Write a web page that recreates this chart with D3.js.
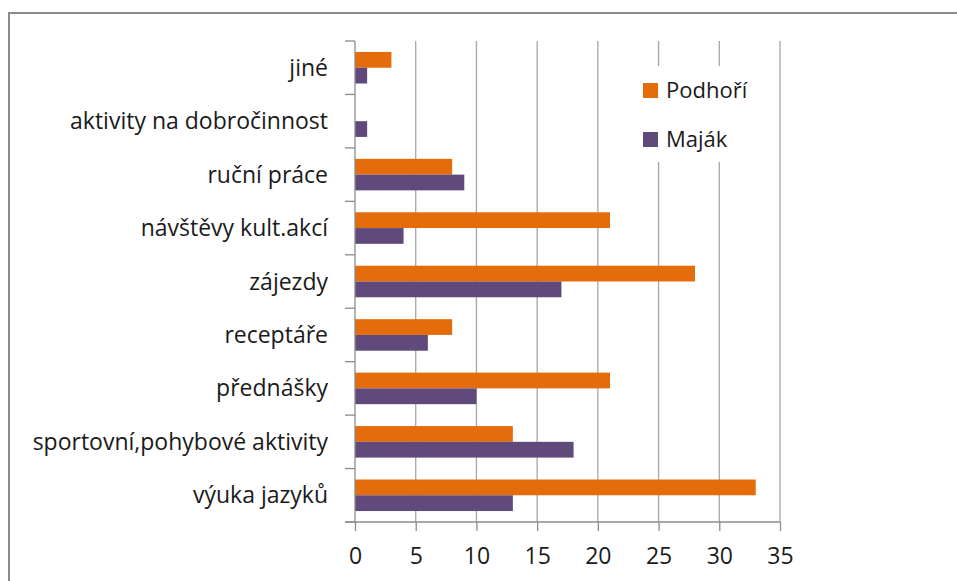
<!DOCTYPE html>
<html><head><meta charset="utf-8">
<script src="https://cdn.jsdelivr.net/npm/d3@7"></script>
<style>body{margin:0;background:#fff;overflow:hidden}svg{display:block}</style>
</head><body>
<script>
const categories = ["jiné","aktivity na dobročinnost","ruční práce","návštěvy kult.akcí","zájezdy","receptáře","přednášky","sportovní,pohybové aktivity","výuka jazyků"];
const podhori = [3,0,8,21,28,8,21,13,33];
const majak = [1,1,9,4,17,6,10,18,13];
const seriesNames = ["Podhoří","Maják"];
const xTicks = [0,5,10,15,20,25,30,35];

(function(){
const W=957,H=581;
const colors=["#E46C0A","#604A7B"];
const font="'Open Sans', sans-serif";
const fs=23;
const svg=d3.select("body").append("svg").attr("width",W).attr("height",H);
svg.append("rect").attr("x",9).attr("y",13).attr("width",1000).attr("height",1000)
  .attr("fill","#fff").attr("stroke","#8c8c8c").attr("stroke-width",2);

const pl=355,pr=780,pt=41,pb=522;
const x=d3.scaleLinear().domain([0,35]).range([pl,pr]);
const y=d3.scaleBand().domain(categories).range([pt,pb]).paddingInner(0.41).paddingOuter(0.205);

svg.append("g").selectAll("line").data(xTicks.slice(1)).join("line")
  .attr("x1",d=>x(d)).attr("x2",d=>x(d)).attr("y1",pt).attr("y2",pb)
  .attr("stroke","#a6a6a6").attr("stroke-width",1.3);

const series=[podhori,majak];
series.forEach((s,i)=>{
  svg.append("g").selectAll("rect").data(categories).join("rect")
    .attr("x",x(0)).attr("y",d=>y(d)+i*y.bandwidth()/2)
    .attr("width",(d,j)=>x(s[j])-x(0)).attr("height",y.bandwidth()/2)
    .attr("fill",colors[i]);
});

const xa=svg.append("g").attr("transform",`translate(0,${pb})`)
  .call(d3.axisBottom(x).tickValues(xTicks).tickSize(9).tickPadding(17).tickSizeOuter(0));
xa.select(".domain").remove();
xa.append("line").attr("x1",pl-10).attr("x2",pr).attr("stroke","#8c8c8c").attr("stroke-width",1.3);
xa.selectAll(".tick line").attr("stroke","#8c8c8c").attr("stroke-width",1.3);
xa.selectAll(".tick text").attr("font-family",font).attr("font-size",fs).attr("fill","#1a1a1a");

const ya=svg.append("g");
ya.append("line").attr("x1",pl).attr("x2",pl).attr("y1",pt).attr("y2",pb).attr("stroke","#8c8c8c").attr("stroke-width",1.3);
ya.selectAll("line.t").data(d3.range(categories.length+1)).join("line").attr("class","t")
  .attr("x1",pl-10).attr("x2",pl).attr("y1",d=>pt+d*(pb-pt)/categories.length).attr("y2",d=>pt+d*(pb-pt)/categories.length)
  .attr("stroke","#8c8c8c").attr("stroke-width",1.3);
ya.selectAll("text").data(categories).join("text")
  .attr("x",328).attr("y",d=>y(d)+y.bandwidth()/2).attr("dy","0.35em")
  .attr("text-anchor","end").attr("font-family",font).attr("font-size",fs).attr("fill","#1a1a1a")
  .text(d=>d);

const lg=svg.append("g");
lg.append("rect").attr("x",630).attr("y",66).attr("width",130).attr("height",96).attr("fill","#fff");
seriesNames.forEach((n,i)=>{
  const cy=90.5+i*49;
  lg.append("rect").attr("x",643).attr("y",cy-7.5).attr("width",15).attr("height",15).attr("fill",colors[i]);
  lg.append("text").attr("x",666).attr("y",cy).attr("dy","0.35em").attr("font-family",font).attr("font-size",22).attr("fill","#1a1a1a").text(n);
});
})();
</script>
</body></html>
